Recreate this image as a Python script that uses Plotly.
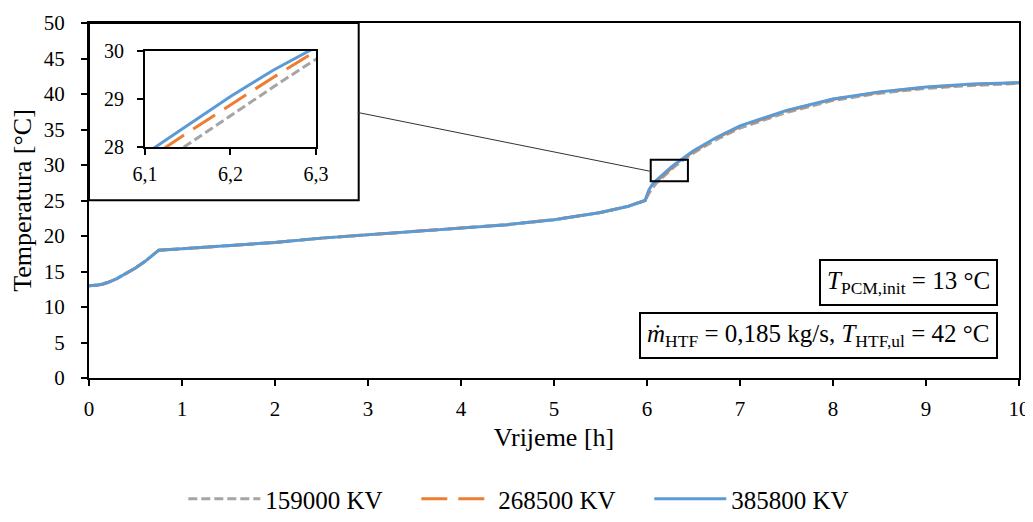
import plotly.graph_objects as go

# ---- data ----
time_h = [0, 0.05, 0.1, 0.15, 0.2, 0.3, 0.4, 0.5, 0.6, 0.7, 0.75, 1.0, 1.5, 2.0, 2.5, 3.0, 3.5, 4.0,
          4.5, 5.0, 5.5, 5.8, 5.98, 6.02, 6.06, 6.1, 6.15, 6.2, 6.25, 6.3, 6.4, 6.5,
          6.75, 7.0, 7.5, 8.0, 8.5, 9.0, 9.5, 10.0]

t_159000 = [13.0, 13.0, 13.1, 13.25, 13.45, 14.0, 14.7, 15.5, 16.4, 17.45, 18.0, 18.2, 18.6, 19.1,
            19.7, 20.2, 20.7, 21.2, 21.6, 22.3, 23.3, 24.2, 25.0, 26.0, 26.8, 27.45, 28.05, 28.65,
            29.25, 29.83, 30.8, 31.7, 33.6, 35.2, 37.4, 39.1, 40.1, 40.8, 41.2, 41.5]
t_268500 = [13.0, 13.0, 13.1, 13.25, 13.45, 14.0, 14.7, 15.5, 16.4, 17.45, 18.0, 18.2, 18.6, 19.1,
            19.7, 20.2, 20.7, 21.2, 21.6, 22.3, 23.3, 24.2, 25.0, 26.3, 27.1, 27.7, 28.3, 28.88,
            29.45, 30.0, 31.0, 31.9, 33.8, 35.4, 37.6, 39.25, 40.25, 40.95, 41.35, 41.6]
t_385800 = [13.0, 13.0, 13.1, 13.25, 13.45, 14.0, 14.7, 15.5, 16.4, 17.45, 18.0, 18.2, 18.6, 19.1,
            19.7, 20.2, 20.7, 21.2, 21.6, 22.3, 23.3, 24.2, 25.0, 26.5, 27.3, 27.85, 28.45, 29.05,
            29.6, 30.1, 31.1, 32.0, 33.9, 35.5, 37.7, 39.3, 40.3, 41.0, 41.4, 41.6]

series_names = ["159000 KV", "268500 KV", "385800 KV"]
series_values = [t_159000, t_268500, t_385800]
series_colors = ["#A5A5A5", "#ED7D31", "#5B9BD5"]
series_dash = ["9px,4px", "26px,11px", "solid"]

x_ticks = list(range(0, 11))
y_ticks = list(range(0, 51, 5))
inset_x_ticks = [6.1, 6.2, 6.3]
inset_x_labels = ["6,1", "6,2", "6,3"]
inset_y_ticks = [28, 29, 30]

FONT = "Liberation Serif"

fig = go.Figure()

for name, vals, col, dash in zip(series_names, series_values, series_colors, series_dash):
    fig.add_trace(go.Scatter(x=time_h, y=vals, mode="lines", name=name,
                             line=dict(color=col, width=3, dash=dash),
                             xaxis="x", yaxis="y"))
for name, vals, col, dash in zip(series_names, series_values, series_colors, series_dash):
    fig.add_trace(go.Scatter(x=time_h, y=vals, mode="lines", name=name, showlegend=False,
                             line=dict(color=col, width=3, dash=dash),
                             xaxis="x2", yaxis="y2"))

axis_common = dict(showgrid=False, zeroline=False, showline=True, linecolor="black",
                   linewidth=2, mirror=True, ticks="outside", ticklen=6, tickwidth=1.5,
                   tickcolor="black", automargin=False)

fig.update_layout(
    width=1025, height=514,
    margin=dict(l=81, r=14, t=15, b=144),
    paper_bgcolor="white", plot_bgcolor="white",
    font=dict(family=FONT, color="black", size=20),
    xaxis=dict(range=[0, 10], tickvals=x_ticks, domain=[0, 1], ticklabelstandoff=5,
               title=dict(text="Vrijeme [h]", font=dict(size=26, family=FONT, color="black"), standoff=8),
               tickfont=dict(size=21, family=FONT), **axis_common),
    yaxis=dict(range=[0, 50], tickvals=y_ticks, domain=[0, 1], ticklabelstandoff=12,
               title=dict(text="Temperatura [°C]", font=dict(size=26, family=FONT, color="black"), standoff=6),
               tickfont=dict(size=21, family=FONT), **axis_common),
    xaxis2=dict(range=[6.1, 6.3], tickvals=inset_x_ticks, ticktext=inset_x_labels,
                domain=[0.0602, 0.244], anchor="y2", tickfont=dict(size=20, family=FONT),
                ticklabelstandoff=2, **axis_common),
    yaxis2=dict(range=[28, 30], tickvals=inset_y_ticks, domain=[0.651, 0.921],
                anchor="x2", tickfont=dict(size=20, family=FONT), ticklabelstandoff=9,
                **axis_common),
    legend=dict(orientation="h", xref="container", x=0.512, xanchor="center",
                yref="container", y=-0.025, yanchor="bottom",
                font=dict(size=25, family=FONT), itemwidth=72, entrywidth=146,
                bgcolor="rgba(0,0,0,0)"),
    showlegend=True,
)

# inset frame
fig.add_shape(type="rect", xref="paper", yref="paper", x0=0, x1=0.29, y0=0.501, y1=1.0,
              line=dict(color="black", width=2), fillcolor="rgba(0,0,0,0)", layer="below")
# zoom rectangle on main curve
fig.add_shape(type="rect", xref="x", yref="y", x0=6.04, x1=6.44, y0=27.7, y1=30.75,
              line=dict(color="black", width=2))
# connector line
fig.add_shape(type="line", xref="x", yref="y", x0=2.89, y0=37.4, x1=6.04, y1=29.1,
              line=dict(color="#333333", width=1))

fig.add_annotation(xref="paper", yref="paper", x=0.977, y=0.269, xanchor="right", yanchor="middle",
                   text="<i>T</i><sub>PCM,init</sub> = 13 °C", showarrow=False,
                   font=dict(size=25, family=FONT), bordercolor="black", borderwidth=2, borderpad=6,
                   bgcolor="white")
fig.add_annotation(xref="paper", yref="paper", x=0.977, y=0.121, xanchor="right", yanchor="middle",
                   text="<i>ṁ</i><sub>HTF</sub> = 0,185 kg/s, <i>T</i><sub>HTF,ul</sub> = 42 °C",
                   showarrow=False, font=dict(size=25, family=FONT), bordercolor="black", borderwidth=2,
                   borderpad=6, bgcolor="white")

fig.write_html("out.html")
